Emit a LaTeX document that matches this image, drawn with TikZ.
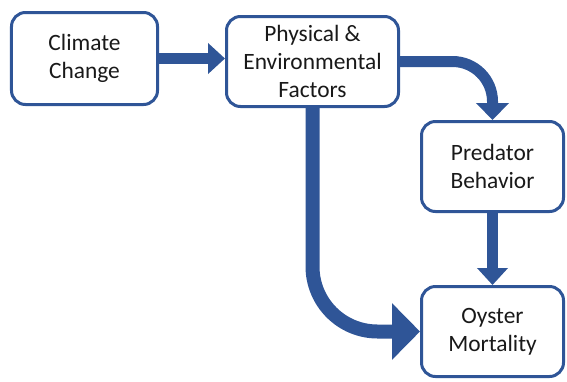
\documentclass[tikz,border=0pt]{standalone}
\usepackage{fontspec}
\setmainfont{Carlito}
\usetikzlibrary{arrows.meta}
\definecolor{boxblue}{RGB}{47,85,151}
\begin{document}
\begin{tikzpicture}
  [x=1bp,y=-1bp,every node/.style={draw=boxblue,line width=3bp,rounded corners=14bp,
   fill=white,align=center,font=\fontsize{23.5}{28.5}\selectfont,text=black!90,
   minimum width=142bp,minimum height=90bp,inner sep=0pt}]
\useasboundingbox (0,0) rectangle (567,381);
\node (cc) [minimum width=146bp,minimum height=92bp] at (84.5,58.5) {Climate\\Change};
  \node (pef) [minimum width=172bp] at (312.5,61.5) {Physical \&\\Environmental\\Factors};
  \node (pb) at (492.5,166.5) {Predator\\Behavior};
  \node (om) at (492.5,331.5) {Oyster\\Mortality};

 \draw[boxblue,line width=11bp,-{Triangle[width=30bp,length=17bp]}]
  (cc.east) -- (cc.east -| pef.west);
 \draw[boxblue,line width=11bp,rounded corners=40bp,-{Triangle[width=32bp,length=17bp]}]
  (pef.east) -| (pb.north);
 \draw[boxblue,line width=11bp,-{Triangle[width=30bp,length=17bp]}]
  (pb) -- (om);
 \draw[boxblue,line width=14bp,rounded corners=65bp,-{Triangle[width=55bp,length=28bp]}]
  (pef.south) |- (om.west);
\end{tikzpicture}
\end{document}
